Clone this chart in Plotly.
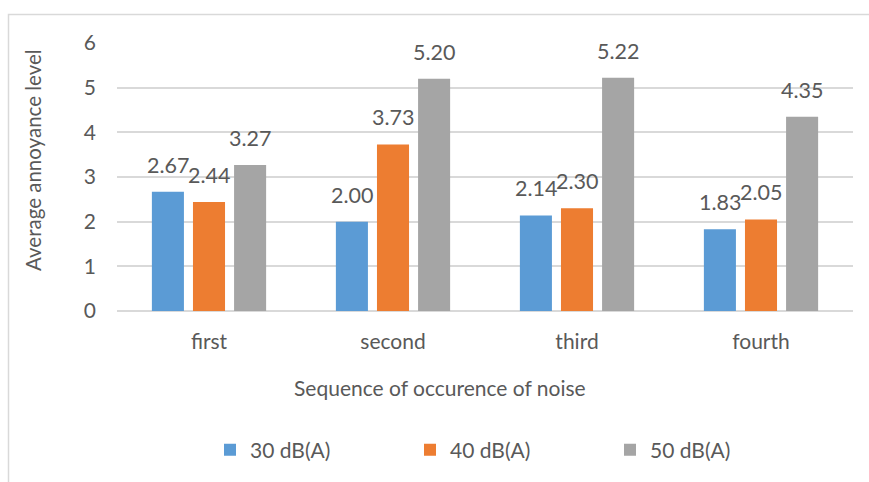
import plotly.graph_objects as go

# Average annoyance level by order in which the noise occurred
categories = ["first", "second", "third", "fourth"]
series_names = ["30 dB(A)", "40 dB(A)", "50 dB(A)"]
values_30 = [2.67, 2.00, 2.14, 1.83]
values_40 = [2.44, 3.73, 2.30, 2.05]
values_50 = [3.27, 5.20, 5.22, 4.35]
colors = ["#5B9BD5", "#ED7D31", "#A5A5A5"]
y_ticks = [0, 1, 2, 3, 4, 5, 6]

FONT = "Lato"
TXT = "#595959"
GRID = "#D9D9D9"

W, H = 869, 482
ML, MR, MT, MB = 117, 16, 43, 171
plot_w = W - ML - MR
plot_h = H - MT - MB

fig = go.Figure()
all_series = [values_30, values_40, values_50]
for name, vals, col in zip(series_names, all_series, colors):
    fig.add_trace(go.Bar(
        x=categories, y=vals, name=name,
        marker=dict(color=col, line=dict(width=0)),
    ))

bargap = 0.33
bargroupgap = 0.22
slot = plot_w / len(categories) * (1 - bargap) / len(series_names)

# value labels above each bar
annotations = []
for i, vals in enumerate(all_series):
    for cat, v in zip(categories, vals):
        annotations.append(dict(
            x=cat, y=v, xref="x", yref="y", text=f"{v:.2f}",
            showarrow=False, xshift=(i - 1) * slot, yshift=27,
            yanchor="middle", xanchor="center",
            font=dict(family=FONT, size=21.5, color=TXT),
        ))

def px_x(px):
    return (px - ML) / plot_w

def px_y(py):
    return (H - MB - py) / plot_h

# axis titles
annotations.append(dict(
    x=px_x(33), y=px_y(160), xref="paper", yref="paper",
    text="Average annoyance level", textangle=-90, showarrow=False,
    xanchor="center", yanchor="middle",
    font=dict(family=FONT, size=20.5, color=TXT),
))
annotations.append(dict(
    x=px_x(440), y=px_y(387), xref="paper", yref="paper",
    text="Sequence of occurence of noise", showarrow=False,
    xanchor="center", yanchor="middle",
    font=dict(family=FONT, size=21, color=TXT),
))

fig.update_layout(
    width=W, height=H,
    margin=dict(l=ML, r=MR, t=MT, b=MB),
    paper_bgcolor="white", plot_bgcolor="white",
    barmode="group", bargap=bargap, bargroupgap=bargroupgap,
    font=dict(family=FONT, size=21, color=TXT),
    annotations=annotations,
    showlegend=True,
    legend=dict(
        orientation="h", x=px_x(210), y=px_y(450),
        xanchor="left", yanchor="middle",
        entrywidth=155, entrywidthmode="pixels",
        itemwidth=30, traceorder="normal",
        font=dict(family=FONT, size=21, color=TXT),
    ),
    shapes=[dict(
        type="rect", xref="paper", yref="paper",
        x0=px_x(8.5), x1=px_x(1000), y0=px_y(700), y1=px_y(14.5),
        line=dict(color=GRID, width=1.5), fillcolor="rgba(0,0,0,0)",
        layer="below",
    )],
)

fig.update_xaxes(
    showgrid=False, showline=False, zeroline=False,
    ticks="", ticklabelstandoff=16,
    tickfont=dict(family=FONT, size=21, color=TXT),
)
fig.update_yaxes(
    range=[0, 6], tickvals=y_ticks, showgrid=True, gridcolor=GRID, gridwidth=1.5,
    zeroline=True, zerolinecolor=GRID, zerolinewidth=1.5,
    showline=False, ticks="", ticklabelstandoff=20,
    tickfont=dict(family=FONT, size=21, color=TXT),
)

fig.write_html("out.html")
